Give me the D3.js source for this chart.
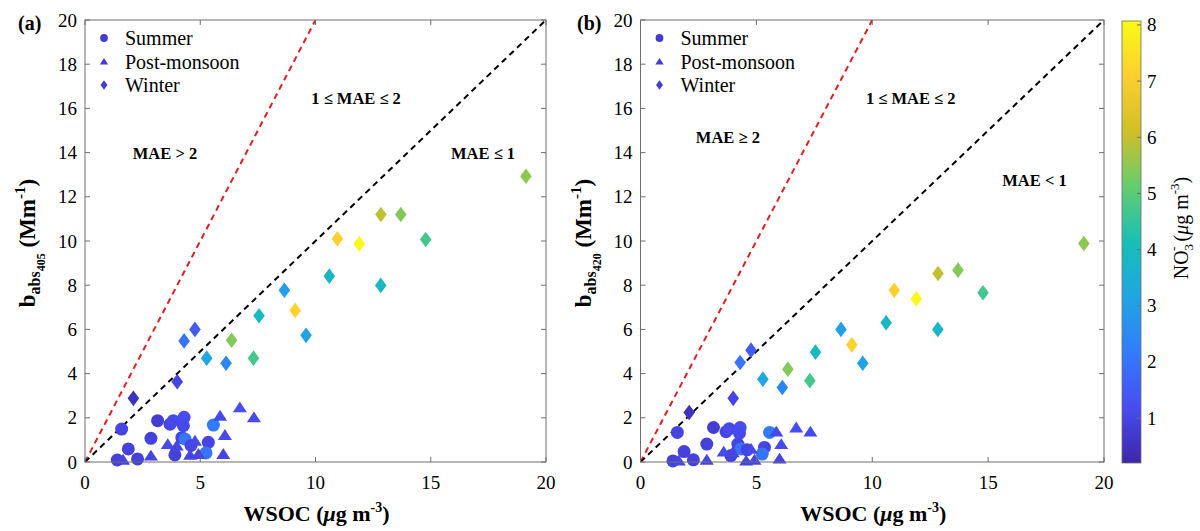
<!DOCTYPE html>
<html><head><meta charset="utf-8">
<script src="https://cdn.jsdelivr.net/npm/d3@7"></script>
<style>body{margin:0;background:#fff}svg{display:block}text{font-family:"Liberation Serif","Times New Roman",serif;fill:#000}</style>
</head><body><svg id="c" width="1200" height="531"></svg>
<script>
// ---------- data ----------
const summerWSOC = [1.40,1.59,1.88,2.28,2.86,3.15,3.69,3.83,4.30,4.27,4.20,4.34,3.90,5.35,5.25,5.57,4.60];
const summerB405 = [0.09,1.49,0.59,0.14,1.07,1.87,1.71,1.87,2.02,1.64,1.10,1.04,0.32,0.89,0.41,1.67,0.75];
const summerB420 = [0.05,1.34,0.47,0.10,0.81,1.56,1.37,1.50,1.56,1.30,0.81,0.59,0.29,0.66,0.36,1.34,0.55];
const summerNO3  = [0.9,1.0,0.9,0.9,0.9,0.8,1.0,1.1,1.2,1.1,1.0,2.0,0.9,1.0,2.0,2.2,1.0];

const postWSOC = [1.65,2.86,3.59,3.98,4.56,4.77,4.92,5.86,6.00,6.07,6.72,7.33];
const postB405 = [0.10,0.29,0.81,0.74,0.32,0.96,0.36,2.09,0.36,1.22,2.47,2.02];
const postB420 = [0.06,0.10,0.47,0.44,0.06,0.59,0.10,1.37,0.15,0.81,1.56,1.37];
const postNO3  = [1.0,1.0,1.1,1.0,1.0,1.1,1.0,1.1,1.0,1.1,1.2,1.1];

const winterWSOC = [2.10,4.00,4.30,4.77,5.28,6.12,6.36,7.31,7.55,8.65,9.12,9.59,10.60,10.95,11.90,12.84,12.83,13.70,14.78,19.13];
const winterB405 = [2.88,3.63,5.48,6.00,4.70,4.47,5.51,4.70,6.62,7.77,6.86,5.73,8.41,10.10,9.87,11.20,7.99,11.20,10.07,12.93];
const winterB420 = [2.24,2.88,4.50,5.06,3.75,3.37,4.20,3.68,4.97,6.00,5.30,4.47,6.30,7.77,7.39,8.53,6.00,8.68,7.66,9.89];
const winterNO3  = [0.5,1.0,2.0,1.5,3.2,2.4,5.4,4.7,3.9,3.0,7.2,3.1,3.8,7.1,8.0,5.95,3.8,5.4,4.7,5.5];

const xTicks = [0,5,10,15,20];
const yTicks = [0,2,4,6,8,10,12,14,16,18,20];
const cbTicks = [1,2,3,4,5,6,7,8];
const cbDomain = [0.2, 8.07];
const legendLabels = ["Summer","Post-monsoon","Winter"];
const mlines = [{slope:2,color:"#e02020"},{slope:1,color:"#000"}];
const annotA = [{x:11.76,y:16.45,t:"1 ≤ MAE ≤ 2"},{x:3.47,y:14.0,t:"MAE > 2"},{x:17.27,y:14.0,t:"MAE ≤ 1"}];
const annotB = [{x:11.66,y:16.45,t:"1 ≤ MAE ≤ 2"},{x:3.77,y:14.7,t:"MAE ≥ 2"},{x:17.0,y:12.75,t:"MAE < 1"}];

// parula colormap stops
const parula = ["#3e26a8","#484cf0","#327cfc","#20a5e3","#18bfb6","#64cd6f","#d1bf27","#fccf30","#f9fb14"];
const cScale = d3.scaleLinear()
  .domain(parula.map((_,i)=>cbDomain[0]+i*(cbDomain[1]-cbDomain[0])/(parula.length-1)))
  .range(parula).interpolate(d3.interpolateRgb).clamp(true);

const svg = d3.select("#c");
const Y0 = 462, Y1 = 20;
const panels = [
  {x0:85, x1:546, key:"b405", sub:"405", label:"(a)", annot:annotA, lx:18},
  {x0:640.5, x1:1104, key:"b420", sub:"420", label:"(b)", annot:annotB, lx:577}
];
const series = [
  {shape:"circle", wsoc:summerWSOC, b405:summerB405, b420:summerB420, no3:summerNO3},
  {shape:"triangle", wsoc:postWSOC, b405:postB405, b420:postB420, no3:postNO3},
  {shape:"diamond", wsoc:winterWSOC, b405:winterB405, b420:winterB420, no3:winterNO3}
];
function shapePath(shape, s){
  if(shape==="circle") return d3.symbol(d3.symbolCircle, Math.PI*6.5*6.5*s*s)();
  if(shape==="triangle"){const a=7*s;return `M0,${-a*0.85}L${a},${a*0.7}L${-a},${a*0.7}Z`;}
  const w=5.8*s,h=7.8*s;return `M0,${-h}L${w},0L0,${h}L${-w},0Z`;
}
const axisColor = "#6e6e6e";

panels.forEach(p=>{
  const x = d3.scaleLinear().domain([0,20]).range([p.x0,p.x1]);
  const y = d3.scaleLinear().domain([0,20]).range([Y0,Y1]);
  const g = svg.append("g");
  const cid = "clip"+p.sub;
  svg.append("clipPath").attr("id",cid).append("rect").attr("x",p.x0).attr("y",Y1).attr("width",p.x1-p.x0).attr("height",Y0-Y1);
  g.append("g").attr("clip-path",`url(#${cid})`).selectAll("line").data(mlines).join("line")
    .attr("x1",x(0)).attr("y1",y(0)).attr("x2",d=>x(20/d.slope)).attr("y2",y(20))
    .attr("stroke",d=>d.color).attr("stroke-width",2).attr("stroke-dasharray","6,4.5");
  series.forEach(s=>{
    g.append("g").selectAll("path").data(s.wsoc.map((w,i)=>({w, b:s[p.key][i], n:s.no3[i]}))).join("path")
      .attr("d",shapePath(s.shape,1))
      .attr("transform",d=>`translate(${x(d.w)},${y(d.b)})`)
      .attr("fill",d=>cScale(d.n));
  });
  const ax = g.append("g").attr("stroke",axisColor).attr("stroke-width",1).attr("fill","none");
  ax.append("rect").attr("x",p.x0).attr("y",Y1).attr("width",p.x1-p.x0).attr("height",Y0-Y1);
  xTicks.forEach(t=>{
    ax.append("line").attr("x1",x(t)).attr("x2",x(t)).attr("y1",Y0).attr("y2",Y0-5);
    ax.append("line").attr("x1",x(t)).attr("x2",x(t)).attr("y1",Y1).attr("y2",Y1+5);
  });
  yTicks.forEach(t=>{
    ax.append("line").attr("x1",p.x0).attr("x2",p.x0+5).attr("y1",y(t)).attr("y2",y(t));
    ax.append("line").attr("x1",p.x1).attr("x2",p.x1-5).attr("y1",y(t)).attr("y2",y(t));
  });
  g.selectAll(".xt").data(xTicks).join("text").attr("class","xt")
    .attr("x",d=>x(d)).attr("y",489).attr("text-anchor","middle").attr("font-size",19).text(d=>d);
  g.selectAll(".yt").data(yTicks).join("text").attr("class","yt")
    .attr("x",p.x0-8).attr("y",d=>y(d)+6.5).attr("text-anchor","end").attr("font-size",19).text(d=>d);
  const xl = g.append("text").attr("x",(p.x0+p.x1)/2+1).attr("y",521).attr("text-anchor","middle")
    .attr("font-size",22).attr("font-weight","bold");
  xl.append("tspan").text("WSOC (");
  xl.append("tspan").attr("font-style","italic").text("μ");
  xl.append("tspan").text("g m");
  xl.append("tspan").attr("font-size",14).attr("dy",-9).text("-3");
  xl.append("tspan").attr("dy",9).text(")");
  const yl = g.append("text").attr("transform",`translate(${p.x0-50},243) rotate(-90)`)
    .attr("text-anchor","middle").attr("font-size",23).attr("font-weight","bold");
  yl.append("tspan").text("b");
  yl.append("tspan").attr("font-size",16).attr("dy",5).text("abs");
  yl.append("tspan").attr("font-size",12).attr("dy",5).text(p.sub);
  yl.append("tspan").attr("dy",-10).text(" (Mm");
  yl.append("tspan").attr("font-size",15).attr("dy",-10).text("-1");
  yl.append("tspan").attr("dy",10).text(")");
  g.append("text").attr("x",p.lx).attr("y",30).attr("font-size",20).attr("font-weight","bold").text(p.label);
  g.selectAll(".an").data(p.annot).join("text").attr("class","an")
    .attr("x",d=>x(d.x)).attr("y",d=>y(d.y)+6).attr("text-anchor","middle")
    .attr("font-size",16.5).attr("font-weight","bold").text(d=>d.t);
  const lg = g.append("g");
  legendLabels.forEach((lab,i)=>{
    const yy = 38 + i*23.5;
    lg.append("path").attr("d",shapePath(series[i].shape,0.6)).attr("transform",`translate(${p.x0+19},${yy})`)
      .attr("fill",cScale(0.8));
    lg.append("text").attr("x",p.x0+40).attr("y",yy+7).attr("font-size",20).text(lab);
  });
});

// colorbar
const cbx = 1122, cbw = 19;
const cy = d3.scaleLinear().domain(cbDomain).range([463,21]);
const grad = svg.append("defs").append("linearGradient").attr("id","pg").attr("x1",0).attr("y1",1).attr("x2",0).attr("y2",0);
parula.forEach((c,i)=>grad.append("stop").attr("offset",i/(parula.length-1)).attr("stop-color",c));
svg.append("rect").attr("x",cbx).attr("y",cy(cbDomain[1])).attr("width",cbw).attr("height",cy(cbDomain[0])-cy(cbDomain[1]))
  .attr("fill","url(#pg)").attr("stroke",axisColor).attr("stroke-width",0.8);
cbTicks.forEach(t=>{
  svg.append("line").attr("x1",cbx+cbw).attr("x2",cbx+cbw-4).attr("y1",cy(t)).attr("y2",cy(t)).attr("stroke",axisColor);
});
svg.selectAll(".cbt").data(cbTicks).join("text").attr("class","cbt")
  .attr("x",cbx+cbw+6).attr("y",d=>cy(d)+6.5).attr("font-size",19).text(d=>d);
const cl = svg.append("text").attr("transform","translate(1188,228) rotate(-90)").attr("text-anchor","middle").attr("font-size",20);
cl.append("tspan").text("NO");
cl.append("tspan").attr("font-size",13).attr("dy",5).text("3");
cl.append("tspan").attr("font-size",13).attr("dx",-7).attr("dy",-15).text("-");
cl.append("tspan").attr("dy",10).text(" (");
cl.append("tspan").attr("font-style","italic").text("μ");
cl.append("tspan").text("g m");
cl.append("tspan").attr("font-size",13).attr("dy",-9).text("-3");
cl.append("tspan").attr("dy",9).text(")");
</script></body></html>
